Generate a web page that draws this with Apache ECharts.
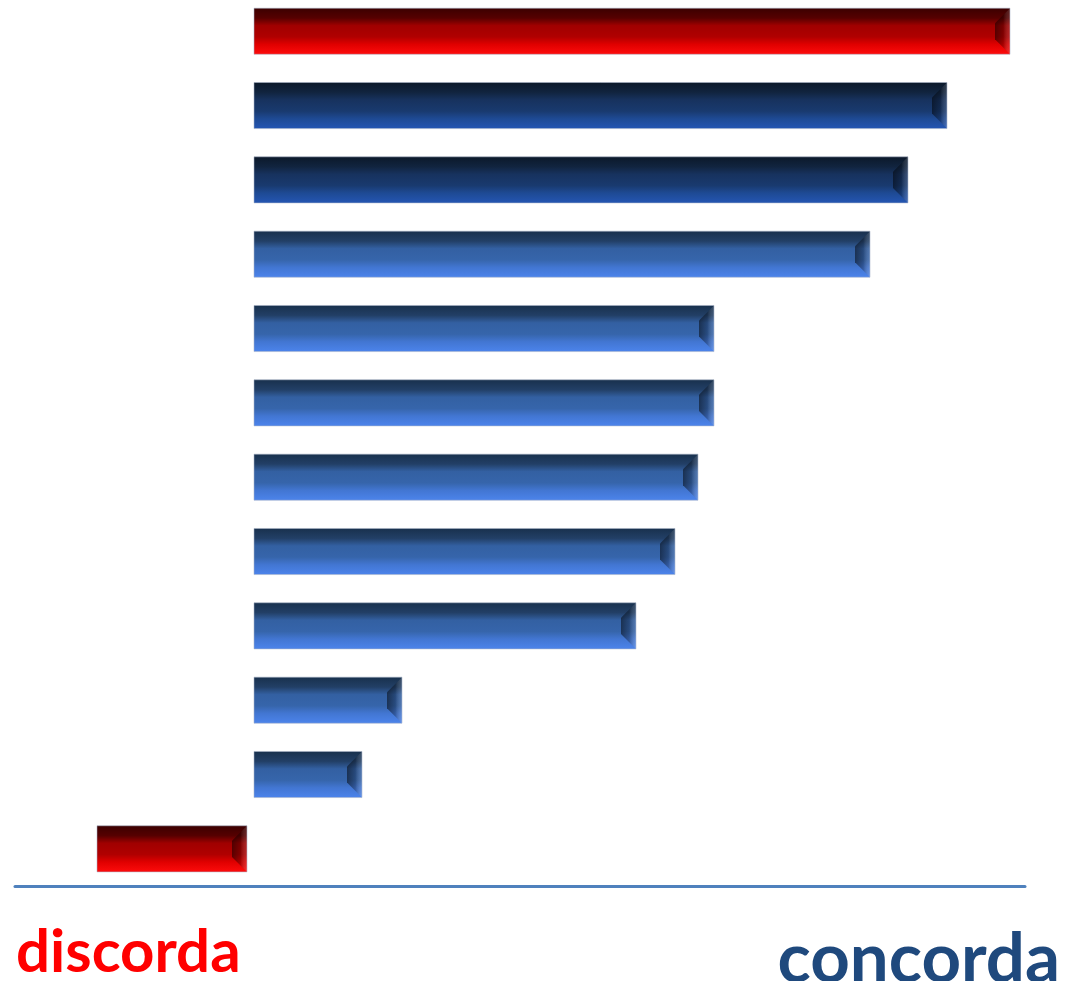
<!DOCTYPE html>
<html>
<head>
<meta charset="utf-8">
<script src="https://cdn.jsdelivr.net/npm/echarts@6/dist/echarts.min.js"></script>
<style>
  html, body { margin: 0; padding: 0; background: #ffffff; }
  #chart { width: 1067px; height: 981px; }
</style>
</head>
<body>
<div id="chart"></div>
<script>
// Rows, top to bottom (index 0 = top row)
const categories = ['A', 'B', 'C', 'D', 'E', 'F', 'G', 'H', 'I', 'J', 'K', 'L'];
// Agreement score per row (negative = disagreement)
const values = [75.6, 69.3, 65.4, 61.6, 46.0, 46.0, 44.4, 42.1, 38.2, 14.8, 10.8, -15.7];
// Colour family per row
const tones = ['red', 'navy', 'navy', 'blue', 'blue', 'blue', 'blue', 'blue', 'blue', 'blue', 'blue', 'red'];
const sideLabels = ['discorda', 'concorda'];

const palettes = {
  red:  [[0, '#3a0000'], [0.22, '#560000'], [0.38, '#a00000'], [0.62, '#b00000'], [0.78, '#e00000'], [1, '#ff0c0c']],
  navy: [[0, '#0b1829'], [0.22, '#11243f'], [0.38, '#17325e'], [0.62, '#193a6f'], [0.78, '#1e4a94'], [1, '#2456b4']],
  blue: [[0, '#18304c'], [0.22, '#223f66'], [0.38, '#3360a2'], [0.62, '#3665ab'], [0.78, '#4276d2'], [1, '#4c84ec']]
};

function vGrad(stops) {
  return new echarts.graphic.LinearGradient(0, 0, 0, 1,
    stops.map(s => ({ offset: s[0], color: s[1] })));
}

// Bevelled bar: gradient body plus a shaded facet at the right end
function renderBar(params, api) {
  const idx = api.value(0);
  const val = api.value(1);
  const band = api.size([0, 1])[1];
  const h = band * 0.62;
  const pZero = api.coord([0, idx]);
  const pVal = api.coord([val, idx]);
  const x0 = Math.min(pZero[0], pVal[0]);
  let x1 = Math.max(pZero[0], pVal[0]);
  if (val < 0) x1 -= 7; // small gap before the zero line
  const y0 = pZero[1] - h / 2;
  const w = x1 - x0;
  const tone = tones[idx];
  const b = Math.min(15, w / 3);
  return {
    type: 'group',
    children: [
      {
        type: 'rect',
        shape: { x: x0, y: y0, width: w, height: h },
        style: { fill: vGrad(palettes[tone]), stroke: 'rgba(170,180,200,0.55)', lineWidth: 1 }
      },
      {
        type: 'polygon',
        shape: { points: [[x1 - b, y0 + b], [x1, y0], [x1, y0 + h], [x1 - b, y0 + h - b]] },
        style: {
          fill: new echarts.graphic.LinearGradient(0, 0, 1, 0, [
            { offset: 0, color: 'rgba(0,0,0,0.5)' },
            { offset: 0.55, color: 'rgba(0,0,0,0.25)' },
            { offset: 1, color: 'rgba(255,255,255,0.15)' }
          ])
        }
      }
    ]
  };
}

const chart = echarts.init(document.getElementById('chart'), null, { renderer: 'canvas' });
chart.setOption({
  animation: false,
  backgroundColor: '#ffffff',
  grid: { left: 15, right: 42, top: 0, bottom: 95 },
  xAxis: {
    type: 'value',
    min: -23.9,
    max: 77.1,
    axisLabel: { show: false },
    axisTick: { show: false },
    splitLine: { show: false },
    axisLine: { show: true, onZero: false, lineStyle: { color: '#4f81bd', width: 3 } }
  },
  // Row index axis: one unit per row, top row at index 0
  yAxis: {
    type: 'value',
    inverse: true,
    min: -0.42,
    max: 11.5,
    axisLabel: { show: false },
    axisTick: { show: false },
    axisLine: { show: false },
    splitLine: { show: false }
  },
  series: [{
    type: 'custom',
    name: 'score',
    renderItem: renderBar,
    encode: { x: 1, y: 0 },
    data: values.map((v, i) => [i, v, categories[i]])
  }],
  graphic: [
    {
      type: 'text', left: 16, top: 923,
      style: { text: sideLabels[0], fill: '#ff0000', font: 'bold 60px Lato' }
    },
    {
      type: 'text', right: 7, top: 925,
      style: { text: sideLabels[1], fill: '#1f497d', font: 'bold 69px Lato' }
    }
  ]
});
</script>
</body>
</html>
